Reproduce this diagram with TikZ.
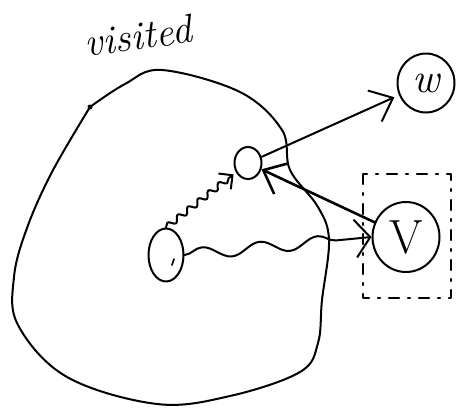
\documentclass[tikz,border=0pt]{standalone}
\usepackage{fontspec}
\usepackage{tikz}
\usetikzlibrary{positioning, arrows.meta, decorations.pathmorphing, shapes.geometric, calc}

\begin{document}
\begin{tikzpicture}[x=1pt, y=-1pt, line width=2pt, line cap=round, line join=round,
    vertex/.style={draw, ellipse, inner sep=0pt},
    wavy/.style={decorate, decoration={snake, #1}},
    boxdash/.style={line width=2.2pt, dash pattern=on 10pt off 9pt on 2pt off 9pt}]
    \useasboundingbox (0,0) rectangle (465,410);

    % the visited region
    \node[rotate=8, font=\fontsize{40}{40}\selectfont\itshape] (title) at (138,36) {visited};
    \draw plot[smooth, tension=0.6] coordinates {
        (90,107) (125,84) (162,70) (240,92) (282,130) (290,170) (318,207) (329,240)
        (322,300) (318,343) (300,372) (230,396) (157,404) (67,377) (18,325)
        (14,277) (27,228) (52,172) (90,107)};
    \fill (90,107) circle (2.5pt);

    \node[vertex, minimum width=27pt, minimum height=32pt] (u) at (248,163) {};
    \node[vertex, minimum width=35pt, minimum height=53pt] (s) at (166,255) {};
    \node[vertex, minimum width=67pt, minimum height=70pt,
          font=\fontsize{48}{48}\selectfont] (v) at (406,237) {V};
    \node[vertex, minimum width=57pt, minimum height=59pt,
          font=\fontsize{42}{42}\selectfont\itshape] (w) at (426,83) {w};
    \draw[line width=1.6pt] ($(s)+(6,10)$) -- ($(s)+(8,4)$);

    \draw[boxdash] ($(v)+(-43,-63)$) rectangle ($(v)+(45,61)$);

    % edges
    \draw[-{Straight Barb[length=20pt, width=34pt]}, shorten >=5pt] (u) -- (w);
    \draw[line width=2.6pt, -{Straight Barb[length=20pt, width=34pt]}] (v) -- (u);
    \draw[wavy={segment length=13pt, amplitude=3pt, post length=6pt},
          -{Straight Barb[length=10pt, width=20pt]}, shorten >=3pt] (s.north) -- (u);
    \draw[wavy={segment length=58pt, amplitude=6pt, post length=12pt},
          -{Straight Barb[length=15pt, width=38pt]}] (s.east) -- (v.west);
\end{tikzpicture}
\end{document}
